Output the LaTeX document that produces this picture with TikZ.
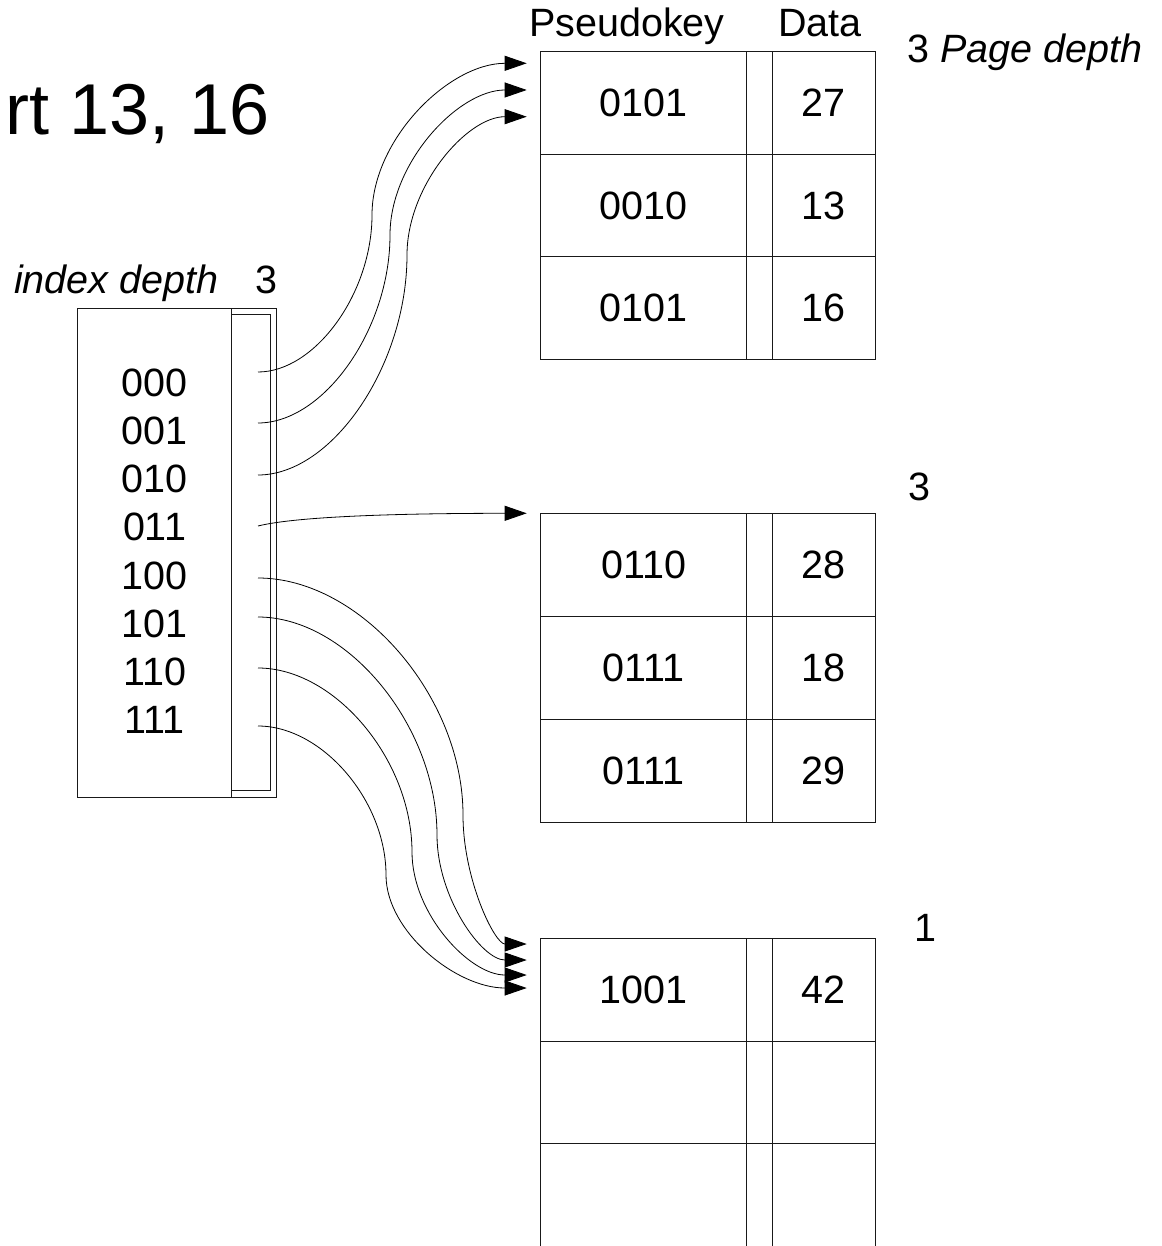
\documentclass[tikz,border=0pt]{standalone}
\usepackage{fontspec}
\setmainfont{Liberation Sans}
\usetikzlibrary{arrows.meta}

\tikzset{
	lbl/.style={inner sep=0pt, font=\fontsize{39.5}{47}\selectfont},
	box/.style={line width=1pt, draw=black!90},
	conn/.style={line width=0.8pt, -{Triangle[length=22pt,width=15pt]}},
}

\begin{document}
\begin{tikzpicture}[x=1pt,y=-1pt]
	\useasboundingbox (0,0) rectangle (1161,1246);
	
	%Titel
	\node[lbl, anchor=base west, font=\fontsize{72}{86}\selectfont] (title) at (5,135) {rt 13, 16};
	
	%Index
	\node[lbl, anchor=base west] (idxdepth) at (14,294) {\itshape index depth};
	\node[lbl, anchor=base west] (idxnum) at (255,294) {3};
	\draw[box] (77.3,308) rectangle (276.7,797);
	\draw[box] (231.7,308) -- (231.7,797);
	\draw[box] (231.7,314.3) rectangle (270.7,790);
	\foreach \k [count=\i from 0] in {000,001,010,011,100,101,110,111}
		\node[lbl] (k\k) at (154.5,383+48.1*\i) {\k};
	
	\coordinate (s000) at (258,372);
	\coordinate (s001) at (258,423);
	\coordinate (s010) at (258,475);
	\coordinate (s011) at (258,526);
	\coordinate (s100) at (258,578);
	\coordinate (s101) at (258,617);
	\coordinate (s110) at (258,668);
	\coordinate (s111) at (258,726);
	
	%Knicke
	\coordinate (m000) at (372,215);
	\coordinate (m001) at (390,235);
	\coordinate (m010) at (407,255);
	\coordinate (m100) at (463,815);
	\coordinate (m101) at (437,835);
	\coordinate (m110) at (412,852);
	\coordinate (m111) at (386,875);
	
	%Seite 1
	\begin{scope}[shift={(540.3,51.7)}]
		\node[lbl, anchor=base west] (pkey) at (-11.3,-15) {Pseudokey};
		\node[lbl, anchor=base west] (data) at (237.7,-15) {Data};
		\node[lbl, anchor=base west] (pdepth1) at (366.7,11.3) {3 \itshape Page depth};
		
		\draw[box] (0,0) rectangle (334.7,307.6);
		\draw[box] (0,102.6) -- ++(334.7,0);
		\draw[box] (0,205.2) -- ++(334.7,0);
		\draw[box] (206.4,0) -- ++(0,307.6);
		\draw[box] (231.7,0) -- ++(0,307.6);
		
		\node[lbl] (p1k1) at (103.2,51.3) {0101};
		\node[lbl] (p1d1) at (283.2,51.3) {27};
		\node[lbl] (p1k2) at (103.2,153.9) {0010};
		\node[lbl] (p1d2) at (283.2,153.9) {13};
		\node[lbl] (p1k3) at (103.2,256.5) {0101};
		\node[lbl] (p1d3) at (283.2,256.5) {16};
		
		\coordinate (p1a) at (-13.6,11.6);
		\coordinate (p1b) at (-13.6,38.3);
		\coordinate (p1c) at (-13.6,65);
	\end{scope}
	
	%Seite 2
	\begin{scope}[shift={(540.3,513.3)}]
		\node[lbl, anchor=base west] (pdepth2) at (367.7,-13.3) {3};
		
		\draw[box] (0,0) rectangle (334.7,309);
		\draw[box] (0,102.7) -- ++(334.7,0);
		\draw[box] (0,206) -- ++(334.7,0);
		\draw[box] (206.4,0) -- ++(0,309);
		\draw[box] (231.7,0) -- ++(0,309);
		
		\node[lbl] (p2k1) at (103.2,51.3) {0110};
		\node[lbl] (p2d1) at (283.2,51.3) {28};
		\node[lbl] (p2k2) at (103.2,154.3) {0111};
		\node[lbl] (p2d2) at (283.2,154.3) {18};
		\node[lbl] (p2k3) at (103.2,257.6) {0111};
		\node[lbl] (p2d3) at (283.2,257.6) {29};
		
		\coordinate (p2a) at (-13.6,0);
	\end{scope}
	
	%Seite 3
	\begin{scope}[shift={(540.3,938.3)}]
		\node[lbl, anchor=base west] (pdepth3) at (373.7,2.7) {1};
		
		\draw[box] (0,307.7) -- (0,0) -- (334.7,0) -- (334.7,307.7);
		\draw[box] (0,102.7) -- ++(334.7,0);
		\draw[box] (0,205.4) -- ++(334.7,0);
		\draw[box] (206.4,0) -- ++(0,307.7);
		\draw[box] (231.7,0) -- ++(0,307.7);
		
		\node[lbl] (p3k1) at (103.2,51.3) {1001};
		\node[lbl] (p3d1) at (283.2,51.3) {42};
		
		\coordinate (p3a) at (-13.6,5.7);
		\coordinate (p3b) at (-13.6,21.7);
		\coordinate (p3c) at (-13.6,36.7);
		\coordinate (p3d) at (-13.6,49.7);
	\end{scope}
	
	%Pfeile
	\draw[conn] (s000) .. controls +(57,0) and +(0,78.5) .. (m000)
		.. controls +(0,-76) and +(-77.5,0) .. (p1a);
	\draw[conn] (s001) .. controls +(66,0) and +(0,94) .. (m001)
		.. controls +(0,-72.5) and +(-68.5,0) .. (p1b);
	\draw[conn] (s010) .. controls +(74.5,0) and +(0,110) .. (m010)
		.. controls +(0,-69) and +(-60,0) .. (p1c);
	\draw[conn] (s011) .. controls +(40,-10) and +(-120,0) .. (p2a);
	\draw[conn] (s100) .. controls +(102.5,0) and +(0,-118.5) .. (m100)
		.. controls +(0,64.5) and +(-32,0) .. (p3a);
	\draw[conn] (s101) .. controls +(89.5,0) and +(0,-109) .. (m101)
		.. controls +(0,62.5) and +(-45,0) .. (p3b);
	\draw[conn] (s110) .. controls +(77,0) and +(0,-92) .. (m110)
		.. controls +(0,61.5) and +(-57.5,0) .. (p3c);
	\draw[conn] (s111) .. controls +(64,0) and +(0,-74.5) .. (m111)
		.. controls +(0,56.5) and +(-70.5,0) .. (p3d);
	
\end{tikzpicture}
\end{document}
